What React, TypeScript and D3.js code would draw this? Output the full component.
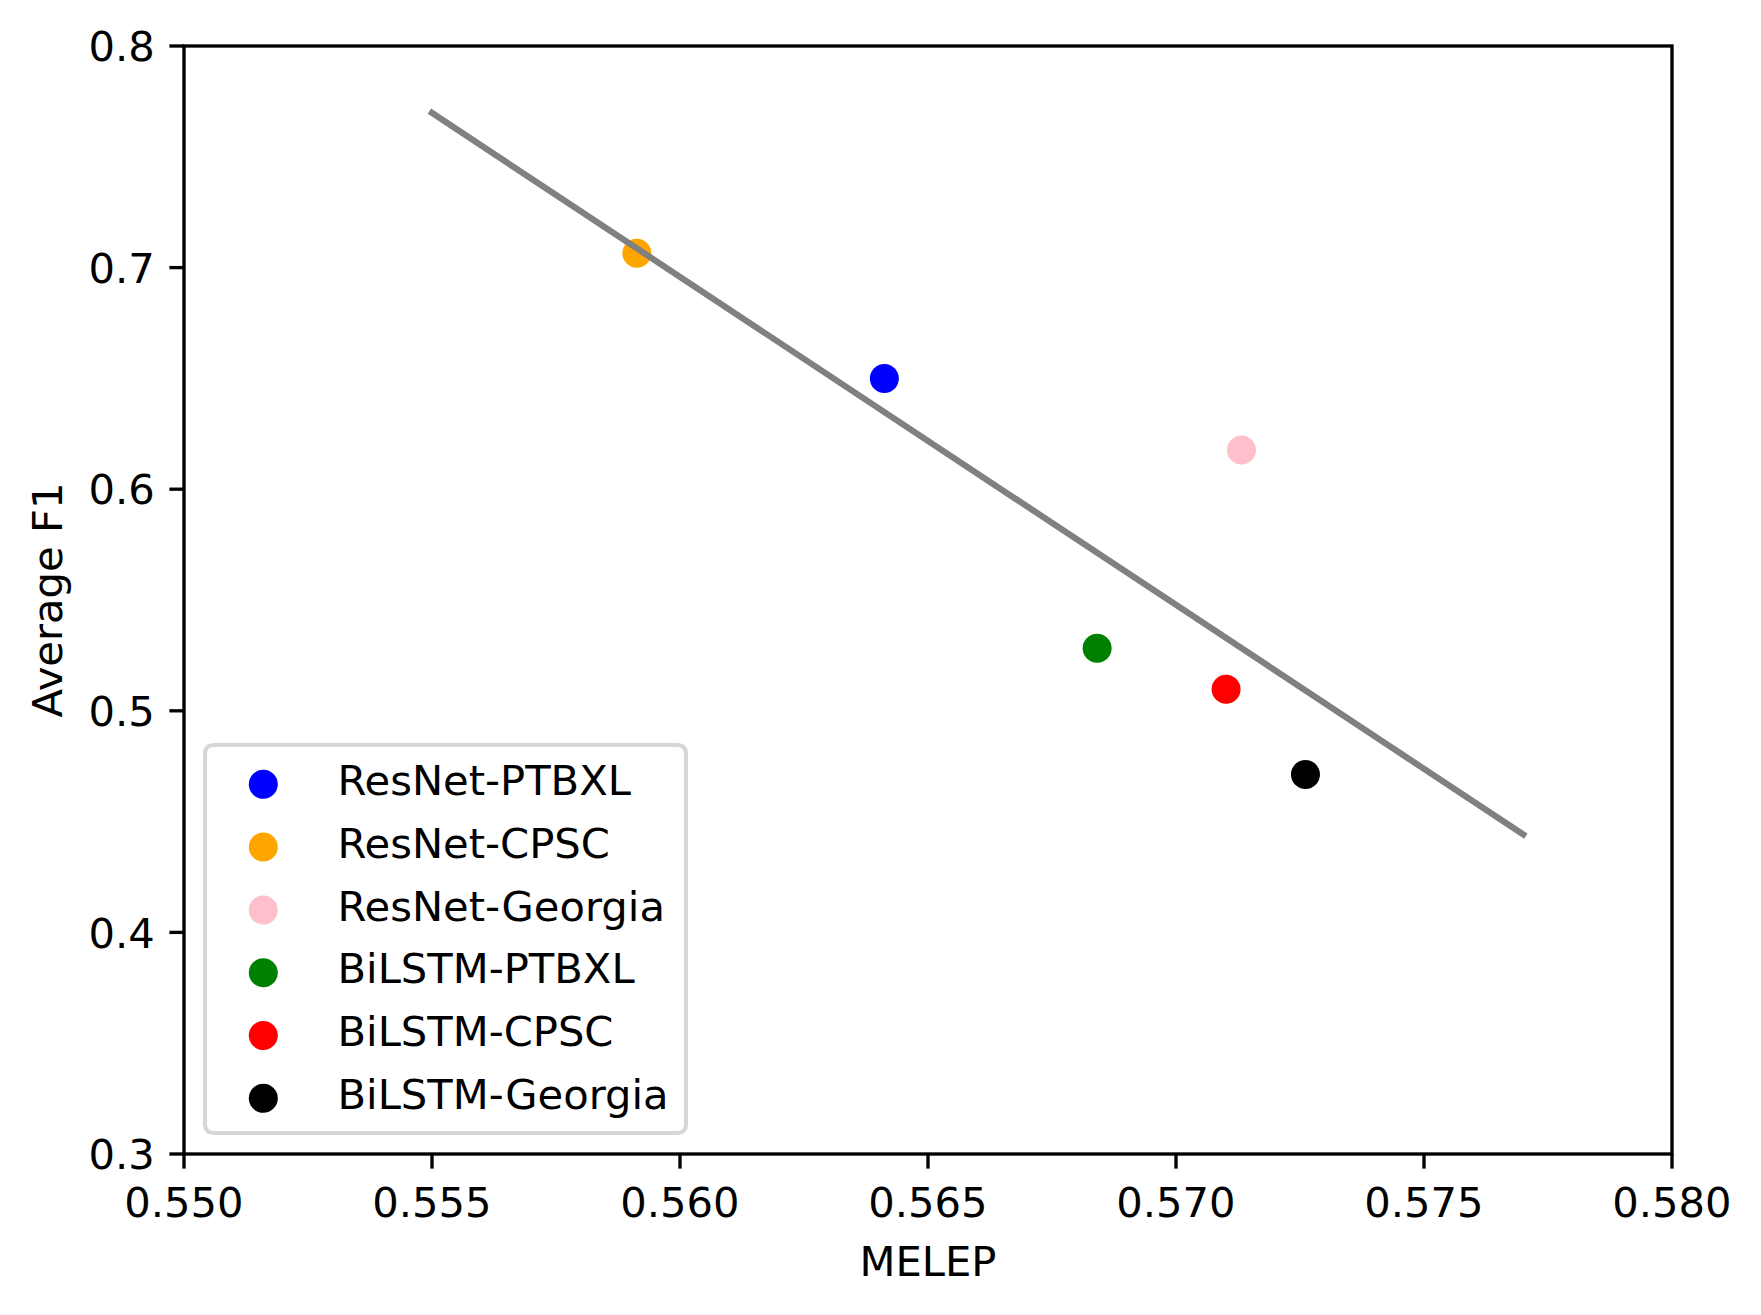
import React from "react";
import * as d3 from "d3";

const models = ["ResNet-PTBXL", "ResNet-CPSC", "ResNet-Georgia", "BiLSTM-PTBXL", "BiLSTM-CPSC", "BiLSTM-Georgia"];
const melep = [0.56412, 0.55913, 0.57132, 0.56841, 0.57101, 0.57261];
const avgF1 = [0.6500, 0.7065, 0.6177, 0.5282, 0.5097, 0.4713];
const pointColors = ["#0000ff", "#ffa500", "#ffc0cb", "#008000", "#ff0000", "#000000"];
const trendX = [0.555, 0.577];
const trendY = [0.7698, 0.4442];
const xTicks = [0.55, 0.555, 0.56, 0.565, 0.57, 0.575, 0.58];
const yTicks = [0.3, 0.4, 0.5, 0.6, 0.7, 0.8];

const W = 1761;
const H = 1315;
const L = 184, R = 1672, T = 46, B = 1154;
const FS = 41.67;
const FONT = "'DejaVu Sans', sans-serif";

export default function App() {
  const x = d3.scaleLinear().domain([0.55, 0.58]).range([L, R]);
  const y = d3.scaleLinear().domain([0.3, 0.8]).range([B, T]);
  const line = d3.line<number>().x((d, i) => x(trendX[i])).y((d, i) => y(trendY[i]));
  const fx = d3.format(".3f");
  const fy = d3.format(".1f");
  const tickLen = 14.6;
  const lw = 3.33;
  const r = 14.5;

  const legX = 205, legY = 745, legW = 481, legH = 388;
  const rowY0 = 784.3, rowStep = 62.8;

  return (
    <svg
      width={W}
      height={H}
      viewBox={`0 0 ${W} ${H}`}
      style={{ position: "absolute", left: 0, top: 0, background: "#fff" }}
      fontFamily={FONT}
    >
      <rect x={0} y={0} width={W} height={H} fill="#fff" />
      {/* points */}
      {models.map((m, i) => (
        <circle key={m} cx={x(melep[i])} cy={y(avgF1[i])} r={r} fill={pointColors[i]} />
      ))}
      {/* trend line */}
      <path
        d={line(trendX) || ""}
        fill="none"
        stroke="#808080"
        strokeWidth={6.25}
        strokeLinecap="square"
      />
      {/* frame */}
      <rect x={L} y={T} width={R - L} height={B - T} fill="none" stroke="#000" strokeWidth={lw} />
      {/* x ticks */}
      {xTicks.map((t) => (
        <g key={"x" + t}>
          <line x1={x(t)} x2={x(t)} y1={B} y2={B + tickLen} stroke="#000" strokeWidth={lw} />
          <text x={x(t)} y={B + 62.5} fontSize={FS} textAnchor="middle" fill="#000">
            {fx(t)}
          </text>
        </g>
      ))}
      {/* y ticks */}
      {yTicks.map((t) => (
        <g key={"y" + t}>
          <line x1={L - tickLen} x2={L} y1={y(t)} y2={y(t)} stroke="#000" strokeWidth={lw} />
          <text x={L - 29.2} y={y(t) + 15.2} fontSize={FS} textAnchor="end" fill="#000">
            {fy(t)}
          </text>
        </g>
      ))}
      {/* axis labels */}
      <text x={(L + R) / 2} y={B + 122} fontSize={FS} textAnchor="middle" fill="#000">
        MELEP
      </text>
      <text
        transform={`translate(61.7, ${(T + B) / 2}) rotate(-90)`}
        fontSize={FS}
        textAnchor="middle"
        fill="#000"
      >
        Average F1
      </text>
      {/* legend */}
      <rect
        x={legX}
        y={legY}
        width={legW}
        height={legH}
        rx={8}
        ry={8}
        fill="#fff"
        fillOpacity={0.8}
        stroke="#d6d6d6"
        strokeWidth={4.17}
      />
      {models.map((m, i) => (
        <g key={"leg" + m}>
          <circle cx={263.3} cy={rowY0 + i * rowStep} r={r} fill={pointColors[i]} />
          <text x={337.5} y={rowY0 + i * rowStep + 10.7} fontSize={FS} fill="#000">
            {m}
          </text>
        </g>
      ))}
    </svg>
  );
}
